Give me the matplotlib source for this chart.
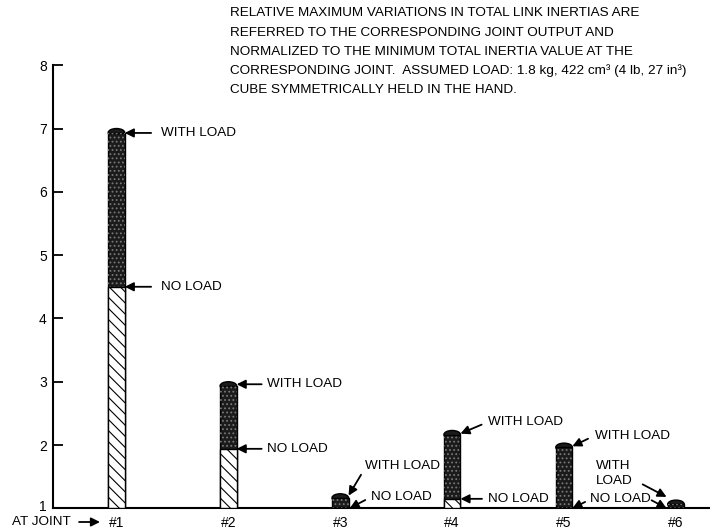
import matplotlib
matplotlib.use("Agg")
import matplotlib.pyplot as plt
import matplotlib.transforms as mtransforms
from matplotlib.patches import Ellipse

plt.rcParams['font.family'] = ['Liberation Sans', 'DejaVu Sans']
plt.rcParams['hatch.linewidth'] = 0.8

# data
joints = ["#1", "#2", "#3", "#4", "#5", "#6"]
no_load = [4.5, 1.94, 1.01, 1.15, 1.01, 1.0]
with_load = [7.0, 3.0, 1.23, 2.23, 2.03, 1.13]
yticks = [1, 2, 3, 4, 5, 6, 7, 8]
note_lines = [
    "RELATIVE MAXIMUM VARIATIONS IN TOTAL LINK INERTIAS ARE",
    "REFERRED TO THE CORRESPONDING JOINT OUTPUT AND",
    "NORMALIZED TO THE MINIMUM TOTAL INERTIA VALUE AT THE",
    "CORRESPONDING JOINT.  ASSUMED LOAD: 1.8 kg, 422 cm\u00b3 (4 lb, 27 in\u00b3)",
    "CUBE SYMMETRICALLY HELD IN THE HAND.",
]

fig = plt.figure(figsize=(7.1, 5.32), dpi=100)
ax = fig.add_axes([0.0746, 0.0445, 0.9254, 0.8329])

xs = list(range(1, len(joints) + 1))
bw = 0.148
cap = 0.13
base = 1.0

for x, lo, hi in zip(xs, no_load, with_load):
    # dark (with load) column from the baseline to just under the cap
    ax.bar(x, hi - cap / 2 - base, bw, bottom=base, color="#1b1b1b",
           edgecolor="black", linewidth=1.0, zorder=2)
    ax.bar(x, hi - cap / 2 - base, bw, bottom=base, color="none",
           edgecolor="#777777", hatch="....", linewidth=0, zorder=3)
    e = Ellipse((x, hi - cap / 2), bw, cap, facecolor="#1b1b1b",
                edgecolor="black", linewidth=1.0, zorder=1)
    ax.add_patch(e)
    # hatched (no load) part
    if lo > base + 0.02:
        ax.bar(x, lo - base, bw, bottom=base, color="white",
               edgecolor="black", hatch="\\\\\\", linewidth=1.0, zorder=4)

arrow = dict(arrowstyle="-|>", color="black", lw=1.3, mutation_scale=13,
             shrinkA=3, shrinkB=0, relpos=(0, 0.5))
tfs = 9.7


def note(text, xy, off, relpos=(0, 0.5), shrinkA=3, ha="left"):
    ap = dict(arrow, relpos=relpos, shrinkA=shrinkA)
    ax.annotate(text, xy=xy, xytext=off, textcoords="offset points",
                ha=ha, va="center", fontsize=tfs, arrowprops=ap, zorder=6,
                linespacing=1.35)


r = bw / 2
note("WITH LOAD", (xs[0] + r, with_load[0] - 0.07), (26, 0), shrinkA=5)
note("NO LOAD", (xs[0] + r, no_load[0]), (26, 0), shrinkA=5)
note("WITH LOAD", (xs[1] + r, with_load[1] - 0.04), (22, 0), shrinkA=2)
note("NO LOAD", (xs[1] + r, no_load[1]), (22, 0), shrinkA=2)
note("WITH LOAD", (xs[2] + r, with_load[2] - 0.03), (11.5, 21), relpos=(0, 0.3), shrinkA=1)
note("NO LOAD", (xs[2] + r + 0.01, no_load[2] - 0.01), (15, 8), shrinkA=2)
note("WITH LOAD", (xs[3] + r, with_load[3] - 0.05), (20, 8.5), shrinkA=3)
note("NO LOAD", (xs[3] + r, no_load[3]), (19.5, 0), shrinkA=2)
note("WITH LOAD", (xs[4] + r, with_load[4] - 0.05), (16, 7.7), shrinkA=3)
note("NO LOAD", (xs[4] + r, no_load[4] - 0.01), (13, 6.5), shrinkA=2)
# second arrow from the shared NO LOAD text towards joint #6
ax.annotate("", xy=(xs[5] - r - 0.01, no_load[5]), xytext=(-10.8, 5.8),
            textcoords="offset points",
            arrowprops=dict(arrow, shrinkA=0))
note("WITH\nLOAD", (xs[5] - r - 0.01, with_load[5] + 0.05), (-51, 16.8),
     relpos=(1, 0.3), shrinkA=6)

ax.set_xlim(0.4325, 6.304)
ax.set_ylim(1, 8)
ax.set_yticks(yticks)
ax.set_xticks(xs, joints)
ax.tick_params(axis="y", direction="in", length=7, width=1.3, pad=4.5,
               labelsize=10)
ax.tick_params(axis="x", length=0, pad=5.5, labelsize=10)
for s in ("top", "right"):
    ax.spines[s].set_visible(False)
for s in ("left", "bottom"):
    ax.spines[s].set_linewidth(1.5)

# lift the "1" label a little, as in the original
lab1 = ax.get_yticklabels()[0]
lab1.set_transform(lab1.get_transform() +
                   mtransforms.ScaledTranslation(0, 3 / 100, fig.dpi_scale_trans))

ax.annotate("AT JOINT", xy=(100 / 710, 1 - 522 / 532), xycoords="figure fraction",
            xytext=(12 / 710, 1 - 522 / 532), textcoords="figure fraction",
            ha="left", va="center", fontsize=tfs,
            arrowprops=dict(arrow, relpos=(1, 0.5), shrinkA=4))

for i, line in enumerate(note_lines):
    fig.text(230 / 710, 1 - (13.5 + 19.1 * i) / 532, line, ha="left",
             va="center", fontsize=tfs)

fig.savefig("out.png", dpi=100)
